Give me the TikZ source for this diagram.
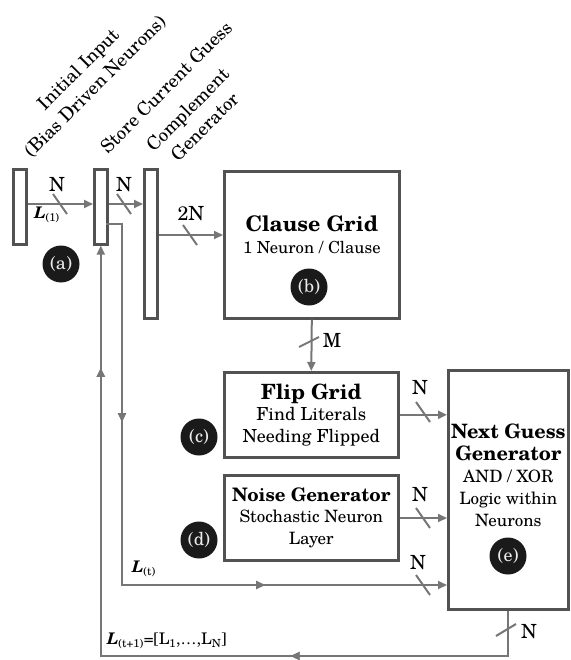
\documentclass[tikz,border=0pt]{standalone}
\usepackage{fontspec}
\setmainfont{texgyreschola}[Extension=.otf, UprightFont=*-regular, BoldFont=*-bold, ItalicFont=*-italic, BoldItalicFont=*-bolditalic]
\usetikzlibrary{arrows.meta,decorations.markings,calc}
\definecolor{boxc}{HTML}{525252}
\definecolor{wirec}{HTML}{767676}
\definecolor{tagc}{HTML}{1A1A1A}
\newcommand{\Lv}{\textbf{\textit{L}}}
\newcommand{\hd}[1]{{\fontsize{#1}{22}\selectfont\bfseries}}
\tikzset{
  bar/.style={draw=boxc, line width=2.6pt, fill=white, minimum width=13pt, inner sep=0pt, anchor=north west},
  blk/.style={draw=boxc, line width=2.6pt, fill=white, inner sep=0pt, align=center, anchor=north west, font=\fontsize{17}{21.5}\selectfont},
  txt/.style={align=center, inner sep=0pt, font=\fontsize{17}{22}\selectfont},
  wire/.style={draw=wirec, line width=2pt},
  tip/.style={-{Triangle[length=9pt,width=8pt]}},
  slash/.style={draw=wirec, line width=2pt},
  lab/.style={inner sep=0pt, font=\fontsize{19.5}{19.5}\selectfont},
  llab/.style={inner sep=0pt, font=\fontsize{16}{16}\selectfont},
  rot/.style={rotate=45, align=center, inner sep=0pt, font=\fontsize{18.5}{24}\selectfont},
  tag/.style={circle, fill=tagc, text=white!92!black, minimum size=37pt, inner sep=0pt, font=\fontsize{18}{18}\selectfont},
  marrow/.style={postaction={decorate}, decoration={markings, mark=at position #1 with {\arrow{Triangle[length=9pt,width=8pt]}}}},
}
\begin{document}
\begin{tikzpicture}[x=1pt,y=-1pt]
\useasboundingbox (0,0) rectangle (570,660);

% rotated labels
\node[rot] (linit) at (87,78) {Initial Input\\(Bias Driven Neurons)};
\node[rot] (lstore) at (166,87) {Store Current Guess};
\node[rot] (lcomp) at (196,118) {Complement\\Generator};

% bars
\node[bar, minimum height=75pt] (init) at (12,168) {};
\node[bar, minimum height=75pt] (store) at (93,168) {};
\node[bar, minimum height=149pt] (comp) at (143,168) {};

% blocks
\node[blk, minimum width=175pt, minimum height=147pt] (clause) at (223,170) {};
\node[txt] (clausetxt) at ($(clause.north)+(0,65)$) {{\fontsize{21.4}{22}\selectfont\bfseries Clause Grid}\\{\fontsize{16.6}{22}\selectfont 1 Neuron / Clause}};
\node[blk, minimum width=174pt, minimum height=85pt] (flip) at (223,371) {{\fontsize{21}{22}\selectfont\bfseries Flip Grid}\\{\fontsize{18}{21.5}\selectfont Find Literals}\\{\fontsize{18}{21.5}\selectfont Needing Flipped}};
\node[blk, minimum width=174pt, minimum height=85pt] (noise) at (223,474) {{\fontsize{18.6}{22}\selectfont\bfseries Noise Generator}\\Stochastic Neuron\\Layer};
\node[blk, minimum width=120pt, minimum height=239pt] (next) at (447,369) {};
\node[txt] (nexttxt) at ($(next.north)+(0,106)$) {{\fontsize{19.8}{23}\selectfont\bfseries Next Guess}\\{\fontsize{19.8}{23}\selectfont\bfseries Generator}\\AND / XOR\\Logic within\\Neurons};

% tags
\node[tag] (ta) at (61,264) {(a)};
\node[tag] (tb) at (309,287) {(b)};
\node[tag] (tc) at (199,437) {(c)};
\node[tag] (td) at (199,540) {(d)};
\node[tag] (te) at (508,556) {(e)};

% coordinates
\coordinate (so) at (106,224);
\coordinate (lt) at (122,585);
\coordinate (fb) at (300,656);

% wires
\draw[wire, tip] (init.east |- 0,204) -- (store.west |- 0,204);
\draw[wire, tip] (store.east |- 0,204) -- (comp.west |- 0,204);
\draw[wire, tip] (comp.east |- 0,235) -- (clause.west |- 0,235);
\draw[wire, tip] (clause.south) -- (flip.north);
\draw[wire, tip] (flip.east) -- (flip.east -| next.west);
\draw[wire, tip] (noise.east |- 0,518) -- (next.west |- 0,518);
\draw[wire, tip, marrow=214pt, marrow=520pt] (so) -| (lt) -- (lt -| next.west);
\draw[wire, tip, marrow=263pt, marrow=741pt] (next.south) |- (fb) -| (store.south);

% slashes
\draw[slash] (53,194) -- (67,214);
\draw[slash] (117,194) -- (131,214);
\draw[slash] (183,225) -- (197,245);
\draw[slash] (299,347) -- (319,337);
\draw[slash] (416,402) -- (430,422);
\draw[slash] (416,508) -- (430,528);
\draw[slash] (416,575) -- (430,595);
\draw[slash] (496,636) -- (516,624);

% labels
\node[lab] (n1) at (57,185) {N};
\node[lab] (n2) at (124,185) {N};
\node[lab] (n3) at (191,214) {2N};
\node[lab] (nm) at (332,340) {M};
\node[lab] (n4) at (420,388) {N};
\node[lab] (n5) at (420,495) {N};
\node[lab] (n6) at (418,563) {N};
\node[lab] (n7) at (529,632) {N};
\node[llab] (l1) at (47,215) {\Lv\textsubscript{(1)}};
\node[llab] (lt1) at (144,569) {\Lv\textsubscript{(t)}};
\node[llab, anchor=west] (lt2) at (107,641) {\Lv\textsubscript{(t+1)}=[L\textsubscript{1},\ldots,L\textsubscript{N}]};
\end{tikzpicture}
\end{document}
